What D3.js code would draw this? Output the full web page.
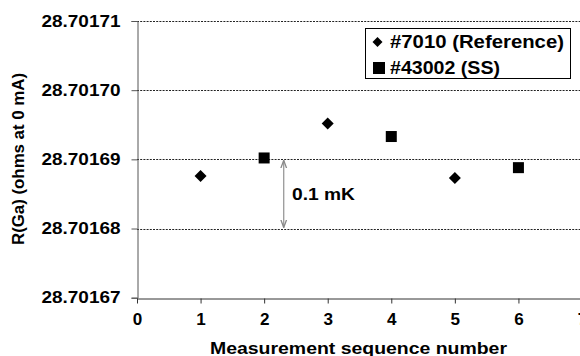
<!DOCTYPE html>
<html><head><meta charset="utf-8">
<script src="https://cdn.jsdelivr.net/npm/d3@7"></script>
<style>
html,body{margin:0;padding:0;background:#fff;overflow:hidden}
text{font-family:"Liberation Sans",Arial,sans-serif;font-weight:bold;fill:#000}
</style></head>
<body>
<svg id="c" width="580" height="356"></svg>
<script>
const seqRef = [1, 3, 5];
const valRef = [28.7016876, 28.7016952, 28.7016873];
const seqSS = [2, 4, 6];
const valSS = [28.7016902, 28.7016933, 28.7016888];
const yTicks = [28.70167, 28.70168, 28.70169, 28.70170, 28.70171];
const xTicks = [0, 1, 2, 3, 4, 5, 6, 7];
const seriesNames = ["#7010 (Reference)", "#43002 (SS)"];
const annotation = "0.1 mK";
const annoFrom = 28.70169, annoTo = 28.70168, annoX = 2.3;

const svg = d3.select("#c");
const x = d3.scaleLinear().domain([0, 7]).range([137, 582]);
const y = d3.scaleLinear().domain([28.70167, 28.70171]).range([297.7, 21]);

// gridlines
svg.append("g").selectAll("line").data(yTicks.slice(1)).join("line")
  .attr("x1", x(0)).attr("x2", x(7))
  .attr("y1", d => Math.round(y(d)) + 0.5).attr("y2", d => Math.round(y(d)) + 0.5)
  .attr("stroke", "#222").attr("stroke-width", 1).attr("stroke-dasharray", "2,1.2");

// y axis
const yAxis = svg.append("g").attr("transform", "translate(137.5,0)")
  .call(d3.axisLeft(y).tickValues(yTicks).tickFormat(d3.format(".5f")).tickSize(6).tickPadding(11));
yAxis.select(".domain").attr("stroke", "#555");
yAxis.selectAll(".tick line").attr("stroke", "#555");
yAxis.selectAll("text").attr("font-size", 16).attr("fill", "#000")
  .attr("textLength", 79).attr("lengthAdjust", "spacingAndGlyphs");

// x axis
const xAxis = svg.append("g").attr("transform", "translate(0," + (Math.round(y(28.70167)) + 0.5) + ")")
  .call(d3.axisBottom(x).tickValues(xTicks).tickFormat(d3.format("d")).tickSize(5).tickSizeOuter(0).tickPadding(10));
xAxis.select(".domain").attr("stroke", "#333");
xAxis.selectAll(".tick line").attr("stroke", "#333");
xAxis.selectAll("text").attr("font-size", 16).attr("fill", "#000")
  .attr("textLength", 9.5).attr("lengthAdjust", "spacingAndGlyphs");

// axis titles
svg.append("text").attr("x", 358.5).attr("y", 354).attr("text-anchor", "middle")
  .attr("font-size", 16).attr("textLength", 297).attr("lengthAdjust", "spacingAndGlyphs")
  .text("Measurement sequence number");
svg.append("text").attr("transform", "translate(24," + 159 + ") rotate(-90)")
  .attr("text-anchor", "middle").attr("font-size", 16)
  .attr("textLength", 172).attr("lengthAdjust", "spacingAndGlyphs").text("R(Ga) (ohms at 0 mA)");

// markers
const diamond = (cx, cy, r) => `M${cx},${cy - r}L${cx + r},${cy}L${cx},${cy + r}L${cx - r},${cy}Z`;
svg.append("g").selectAll("path").data(seqRef.map((s, i) => [s, valRef[i]])).join("path")
  .attr("d", d => diamond(x(d[0]), y(d[1]), 6)).attr("fill", "#000");
svg.append("g").selectAll("rect").data(seqSS.map((s, i) => [s, valSS[i]])).join("rect")
  .attr("x", d => x(d[0]) - 5.5).attr("y", d => y(d[1]) - 5.5)
  .attr("width", 11).attr("height", 11).attr("fill", "#000");

// annotation arrow
svg.append("defs").append("marker").attr("id", "ah").attr("viewBox", "0 0 6 6")
  .attr("refX", 6).attr("refY", 3).attr("markerWidth", 6).attr("markerHeight", 6)
  .attr("orient", "auto-start-reverse")
  .append("path").attr("d", "M0,0.8L6,3L0,5.2").attr("fill", "none").attr("stroke", "#888").attr("stroke-width", 1);
svg.append("line").attr("x1", x(annoX) + 0.5).attr("x2", x(annoX) + 0.5)
  .attr("y1", y(annoFrom) + 1).attr("y2", y(annoTo) - 1)
  .attr("stroke", "#999").attr("stroke-width", 1.3)
  .attr("marker-start", "url(#ah)").attr("marker-end", "url(#ah)");
svg.append("text").attr("x", 292).attr("y", 200).attr("font-size", 17)
  .attr("textLength", 63).attr("lengthAdjust", "spacingAndGlyphs").text(annotation);

// legend
const lg = svg.append("g");
lg.append("rect").attr("x", 365.5).attr("y", 28.5).attr("width", 205).attr("height", 50)
  .attr("fill", "#fff").attr("stroke", "#000").attr("stroke-width", 1);
lg.append("path").attr("d", diamond(377.5, 42, 5)).attr("fill", "#000");
lg.append("rect").attr("x", 373).attr("y", 62).attr("width", 12).attr("height", 12).attr("fill", "#000");
lg.append("text").attr("x", 390).attr("y", 47.5).attr("font-size", 18)
  .attr("textLength", 174).attr("lengthAdjust", "spacingAndGlyphs").text(seriesNames[0]);
lg.append("text").attr("x", 390).attr("y", 74).attr("font-size", 18)
  .attr("textLength", 110).attr("lengthAdjust", "spacingAndGlyphs").text(seriesNames[1]);
</script>
</body></html>
